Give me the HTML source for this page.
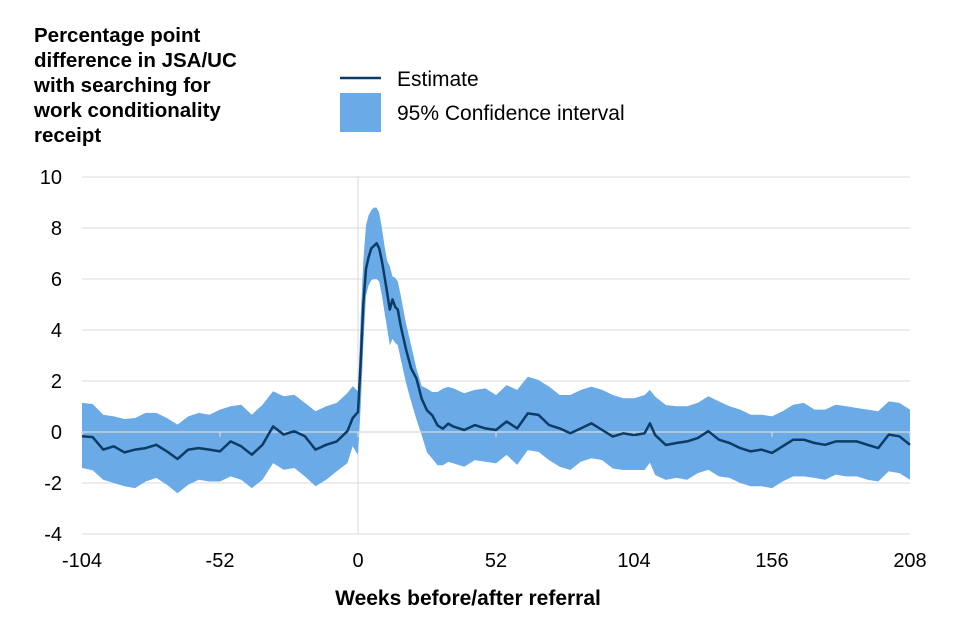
<!DOCTYPE html>
<html><head><meta charset="utf-8"><style>
body{margin:0;background:#fff;width:960px;height:640px;overflow:hidden;font-family:"Liberation Sans",Arial,sans-serif}
svg{display:block}
</style></head><body>
<svg id="chart" width="960" height="640" viewBox="0 0 960 640" xmlns="http://www.w3.org/2000/svg">
<g font-weight="bold" font-size="20.5" fill="#000">
<text x="34" y="42">Percentage point</text>
<text x="34" y="67">difference in JSA/UC</text>
<text x="34" y="92">with searching for</text>
<text x="34" y="117">work conditionality</text>
<text x="34" y="142">receipt</text>
</g>
<g>
<line x1="340" y1="78" x2="381" y2="78" stroke="#0b3c66" stroke-width="2.5"/>
<text x="397" y="86" font-size="21">Estimate</text>
<rect x="340" y="93" width="41" height="39" fill="#6aaae6"/>
<text x="397" y="120" font-size="21">95% Confidence interval</text>
</g>
<g id="grid"></g>
<g id="marks"></g>
<g id="axes"></g>
<text x="468" y="605" text-anchor="middle" font-size="21" font-weight="bold">Weeks before/after referral</text>
</svg>
<script>
const weeks=[-104,-100,-96,-92,-88,-84,-80,-76,-72,-68,-64,-60,-56,-52,-48,-44,-40,-36,-32,-28,-24,-20,-16,-12,-8,-4,-2,0,1,2,3,4,5,6,7,8,9,10,11,12,13,14,15,16,18,20,22,24,26,28,30,32,34,36,40,44,48,52,56,60,64,68,72,76,80,84,88,92,96,100,104,108,110,112,116,120,124,128,132,136,140,144,148,152,156,160,164,168,172,176,180,184,188,192,196,200,204,208];
const estimate=[-0.17,-0.2,-0.69,-0.56,-0.8,-0.69,-0.63,-0.5,-0.76,-1.06,-0.69,-0.63,-0.69,-0.76,-0.37,-0.56,-0.89,-0.5,0.22,-0.1,0.03,-0.17,-0.69,-0.5,-0.37,0.03,0.55,0.78,2.75,5.0,6.4,6.86,7.2,7.3,7.4,7.2,6.7,6.1,5.45,4.8,5.2,4.9,4.8,4.2,3.27,2.5,2.1,1.3,0.85,0.65,0.26,0.13,0.33,0.21,0.08,0.27,0.14,0.08,0.41,0.14,0.73,0.67,0.27,0.14,-0.05,0.14,0.34,0.08,-0.18,-0.05,-0.12,-0.05,0.34,-0.12,-0.51,-0.43,-0.37,-0.24,0.03,-0.3,-0.43,-0.63,-0.76,-0.69,-0.82,-0.56,-0.3,-0.3,-0.43,-0.5,-0.37,-0.37,-0.37,-0.5,-0.63,-0.1,-0.17,-0.5];
const upper=[1.14,1.1,0.68,0.61,0.51,0.55,0.75,0.75,0.55,0.29,0.61,0.75,0.68,0.88,1.01,1.07,0.68,1.07,1.6,1.4,1.46,1.14,0.81,1.01,1.14,1.53,1.8,1.6,4.5,6.7,8.1,8.5,8.7,8.8,8.8,8.6,8.0,7.3,6.7,6.5,6.1,6.05,5.9,5.4,4.3,3.4,2.5,1.8,1.7,1.57,1.57,1.7,1.77,1.71,1.52,1.65,1.71,1.45,1.84,1.65,2.17,2.04,1.78,1.45,1.45,1.65,1.78,1.65,1.45,1.32,1.32,1.45,1.65,1.39,1.06,1.01,1.01,1.14,1.4,1.2,1.01,0.88,0.68,0.68,0.61,0.81,1.07,1.14,0.88,0.88,1.07,1.01,0.94,0.88,0.81,1.2,1.14,0.88];
const lower=[-1.41,-1.5,-1.87,-2.0,-2.13,-2.2,-1.94,-1.8,-2.07,-2.4,-2.07,-1.87,-1.94,-1.94,-1.74,-1.87,-2.2,-1.87,-1.22,-1.48,-1.41,-1.74,-2.13,-1.87,-1.54,-1.22,-0.56,-0.9,1.0,3.4,5.35,5.75,5.95,6.0,6.0,5.9,5.35,4.7,4.05,3.4,3.65,3.5,3.4,2.9,1.96,1.2,0.5,-0.13,-0.8,-1.05,-1.3,-1.3,-1.17,-1.23,-1.36,-1.1,-1.17,-1.23,-0.9,-1.29,-0.71,-0.78,-1.1,-1.36,-1.49,-1.16,-1.03,-1.1,-1.43,-1.49,-1.49,-1.49,-1.2,-1.69,-1.88,-1.8,-1.87,-1.61,-1.48,-1.74,-1.8,-2.0,-2.13,-2.13,-2.2,-1.94,-1.74,-1.74,-1.8,-1.87,-1.67,-1.74,-1.74,-1.87,-1.94,-1.54,-1.61,-1.87];
const yTicks=[10,8,6,4,2,0,-2,-4];
const xTicks=[-104,-52,0,52,104,156,208];
const NS='http://www.w3.org/2000/svg';
const X0=82,X1=910,Y0=177,Y1=534;
const xs=w=>X0+(w-(-104))/(312)*(X1-X0);
const ys=v=>Y0+(10-v)/14*(Y1-Y0);
function mk(tag,attrs,parent){const e=document.createElementNS(NS,tag);for(const k in attrs)e.setAttribute(k,attrs[k]);parent.appendChild(e);return e;}
const gridG=document.getElementById('grid'),marksG=document.getElementById('marks'),axesG=document.getElementById('axes');
yTicks.forEach(t=>{
  if(t!==0){const l=mk('line',{x1:X0,x2:X1,y1:ys(t),y2:ys(t),stroke:'#d9d9d9','stroke-width':1},gridG);
  
  }
  const tx=mk('text',{x:62,y:ys(t)+7,'text-anchor':'end','font-size':20},axesG);
  tx.textContent=t;
  
  
});
const vl=mk('line',{x1:xs(0),x2:xs(0),y1:Y0,y2:Y1,stroke:'#d9d9d9','stroke-width':1},gridG);


const upperPts=weeks.map((w,i)=>xs(w).toFixed(1)+','+ys(upper[i]).toFixed(1));
const lowerPts=weeks.map((w,i)=>xs(w).toFixed(1)+','+ys(lower[i]).toFixed(1)).reverse();
const band=mk('polygon',{points:upperPts.concat(lowerPts).join(' '),fill:'#6aaae6'},marksG);


const zl=mk('line',{x1:X0,x2:X1,y1:ys(0),y2:ys(0),stroke:'#d9d9d9','stroke-width':1.2},marksG);


xTicks.forEach(t=>{
  const tk=mk('line',{x1:xs(t),x2:xs(t),y1:ys(0),y2:ys(0)+5,stroke:'#d9d9d9','stroke-width':1.2},marksG);
  
  
  const tx=mk('text',{x:xs(t),y:567,'text-anchor':'middle','font-size':20},axesG);
  tx.textContent=t;
  
  
});
const estLine=mk('polyline',{points:weeks.map((w,i)=>xs(w).toFixed(1)+','+ys(estimate[i]).toFixed(1)).join(' '),fill:'none',stroke:'#0b3c66','stroke-width':2.5,'stroke-linejoin':'round'},marksG);


</script>
</body></html>
